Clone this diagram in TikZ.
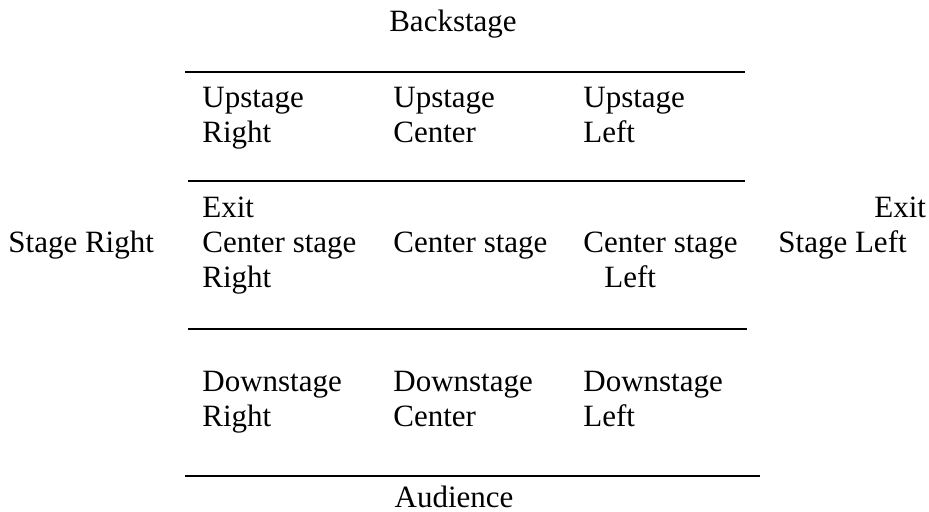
\documentclass[tikz,border=0pt]{standalone}
\usepackage{fontspec}
\setmainfont{Liberation Serif}
\usetikzlibrary{positioning}
\definecolor{Ink}{HTML}{000000}
\tikzset{
  stagetext/.style={anchor=base west,inner sep=0pt,font=\fontsize{15.5}{18}\selectfont,text=Ink},
  titletext/.style={stagetext,anchor=base},
  rule/.style={draw=Ink,line width=0.6pt}
}
\begin{document}
\begin{tikzpicture}[x=0.5pt,y=-0.5pt]
  \useasboundingbox (0,0) rectangle (929,512);
  % front and back
  \node[titletext] (back) at (453,32) {Backstage};
  \node[titletext] (aud) at (454,507) {Audience};
  % rules between the rows
  \draw[rule] (185,72) -- (745,72);
  \draw[rule] (188,181) -- (745,181);
  \draw[rule] (188,329) -- (747,329);
  \draw[rule] (185,476) -- (760,476);
  % upstage
  \node[stagetext] (upr1) at (202,108) {Upstage};
  \node[stagetext] (upr2) at (202,143) {Right};
  \node[stagetext] (upc1) at (393,108) {Upstage};
  \node[stagetext] (upc2) at (393,143) {Center};
  \node[stagetext] (upl1) at (583,108) {Upstage};
  \node[stagetext] (upl2) at (583,143) {Left};
  % center stage and wings
  \node[stagetext] (exitr) at (202,218) {Exit};
  \node[stagetext] (exitl) at (874,218) {Exit};
  \node[stagetext] (wingr) at (8,253) {Stage Right};
  \node[stagetext] (wingl) at (778,253) {Stage Left};
  \node[stagetext] (csr1) at (202,253) {Center stage};
  \node[stagetext] (csr2) at (202,288) {Right};
  \node[stagetext] (csc) at (393,253) {Center stage};
  \node[stagetext] (csl1) at (583,253) {Center stage};
  \node[stagetext] (csl2) at (604,288) {Left};
  % downstage
  \node[stagetext] (dnr1) at (202,391) {Downstage};
  \node[stagetext] (dnr2) at (202,426) {Right};
  \node[stagetext] (dnc1) at (393,391) {Downstage};
  \node[stagetext] (dnc2) at (393,426) {Center};
  \node[stagetext] (dnl1) at (583,391) {Downstage};
  \node[stagetext] (dnl2) at (583,426) {Left};
\end{tikzpicture}
\end{document}
